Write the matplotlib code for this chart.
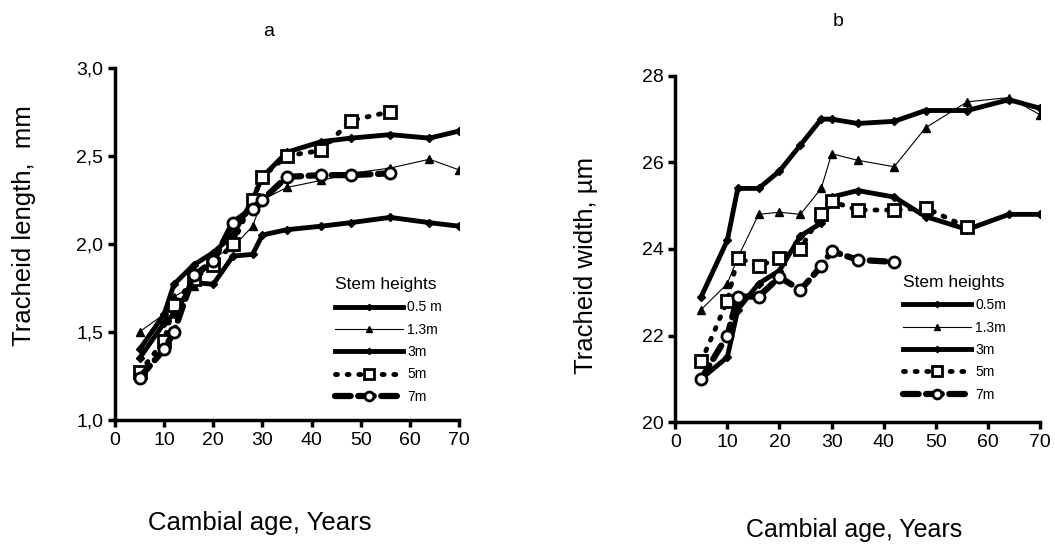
import matplotlib
matplotlib.use('Agg')
import matplotlib.pyplot as plt
from matplotlib.ticker import FuncFormatter

plt.rcParams['font.family'] = ['Liberation Sans', 'DejaVu Sans']

# Cambial age, years
age = [5, 10, 12, 16, 20, 24, 28, 30, 35, 42, 48, 56, 64, 70]
age_top = [5, 10, 12, 16, 20, 24, 28, 30, 35, 42, 48, 56]
age_7m_b = [5, 10, 12, 16, 20, 24, 28, 30, 35, 42]

# a: tracheid length, mm
len_05 = [1.40, 1.60, 1.77, 1.88, 1.95, 2.05, 2.25, 2.38, 2.52, 2.58, 2.60, 2.62, 2.60, 2.64]
len_13 = [1.50, 1.60, 1.70, 1.76, 1.92, 1.98, 2.10, 2.25, 2.32, 2.36, 2.40, 2.43, 2.48, 2.42]
len_3 = [1.35, 1.55, 1.60, 1.78, 1.77, 1.93, 1.94, 2.05, 2.08, 2.10, 2.12, 2.15, 2.12, 2.10]
len_5 = [1.27, 1.45, 1.65, 1.80, 1.88, 2.00, 2.25, 2.38, 2.50, 2.53, 2.70, 2.75]
len_7 = [1.24, 1.40, 1.50, 1.82, 1.90, 2.12, 2.20, 2.25, 2.38, 2.39, 2.39, 2.40]

# b: tracheid width, um
wid_05 = [22.9, 24.2, 25.4, 25.4, 25.8, 26.4, 27.0, 27.0, 26.9, 26.95, 27.2, 27.2, 27.45, 27.25]
wid_13 = [22.6, 23.2, 23.8, 24.8, 24.85, 24.8, 25.4, 26.2, 26.05, 25.9, 26.8, 27.4, 27.5, 27.1]
wid_3 = [21.0, 21.5, 22.6, 23.2, 23.5, 24.3, 24.6, 25.2, 25.35, 25.2, 24.75, 24.45, 24.8, 24.8]
wid_5 = [21.4, 22.8, 23.8, 23.6, 23.8, 24.0, 24.8, 25.1, 24.9, 24.9, 24.95, 24.5]
wid_7 = [21.0, 22.0, 22.9, 22.9, 23.35, 23.05, 23.6, 23.95, 23.75, 23.7]


def draw_series(ax, x05, y05, x13, y13, x3, y3, x5, y5, x7, y7, lab05):
    ax.plot(x05, y05, color='black', lw=3.5, marker='D', ms=4, label=lab05)
    ax.plot(x13, y13, color='black', lw=0.8, marker='^', ms=6, label='1.3m')
    ax.plot(x3, y3, color='black', lw=3.5, marker='D', ms=4, label='3m')
    ax.plot(x5, y5, color='black', lw=3.5, linestyle=(0, (0.4, 2.0)), dash_capstyle='round',
            marker='s', ms=9, mfc='white', mec='black', mew=2, label='5m')
    ax.plot(x7, y7, color='black', lw=4.5, linestyle=(0, (2.5, 1.2)), dash_capstyle='round',
            marker='o', ms=8, mfc='white', mec='black', mew=2, label='7m')


def style_axes(ax):
    for s in ['top', 'right']:
        ax.spines[s].set_visible(False)
    for s in ['left', 'bottom']:
        ax.spines[s].set_linewidth(2.5)
    ax.tick_params(direction='out', length=5, width=2.5, labelsize=14)


def add_legend(ax, x, y):
    ax.legend(loc='upper left', bbox_to_anchor=(x, y), frameon=False, fontsize=10,
              title='Stem heights', title_fontsize=12.5, handlelength=4.9, labelspacing=0.6,
              handletextpad=0.3, markerscale=0.8, alignment='left', borderpad=0)


fig = plt.figure(figsize=(10.55, 5.46), dpi=100)

# panel a
ax1 = fig.add_axes([0.109, 0.231, 0.326, 0.645])
draw_series(ax1, age, len_05, age, len_13, age, len_3, age_top, len_5, age_top, len_7, '0.5 m')
ax1.set_xlim(0, 70)
ax1.set_ylim(1.0, 3.0)
ax1.set_xticks(range(0, 71, 10))
ax1.set_yticks([1.0, 1.5, 2.0, 2.5, 3.0])
ax1.yaxis.set_major_formatter(FuncFormatter(lambda v, p: f'{v:.1f}'.replace('.', ',')))
style_axes(ax1)
add_legend(ax1, 0.62, 0.425)

# panel b
ax2 = fig.add_axes([0.640, 0.227, 0.346, 0.634])
draw_series(ax2, age, wid_05, age, wid_13, age, wid_3, age_top, wid_5, age_7m_b, wid_7, '0.5m')
ax2.set_xlim(0, 70)
ax2.set_ylim(20, 28)
ax2.set_xticks(range(0, 71, 10))
ax2.set_yticks([20, 22, 24, 26, 28])
style_axes(ax2)
add_legend(ax2, 0.605, 0.445)

fig.text(0.255, 0.943, 'a', ha='center', va='center', fontsize=14)
fig.text(0.794, 0.961, 'b', ha='center', va='center', fontsize=14)
fig.text(0.023, 0.586, 'Tracheid length,  mm', rotation=90, ha='center', va='center', fontsize=18.5)
fig.text(0.555, 0.513, 'Tracheid width, µm', rotation=90, ha='center', va='center', fontsize=18.5)
fig.text(0.246, 0.042, 'Cambial age, Years', ha='center', va='center', fontsize=18.5)
fig.text(0.81, 0.03, 'Cambial age, Years', ha='center', va='center', fontsize=18)

plt.savefig('out.png', dpi=100)
plt.close()
